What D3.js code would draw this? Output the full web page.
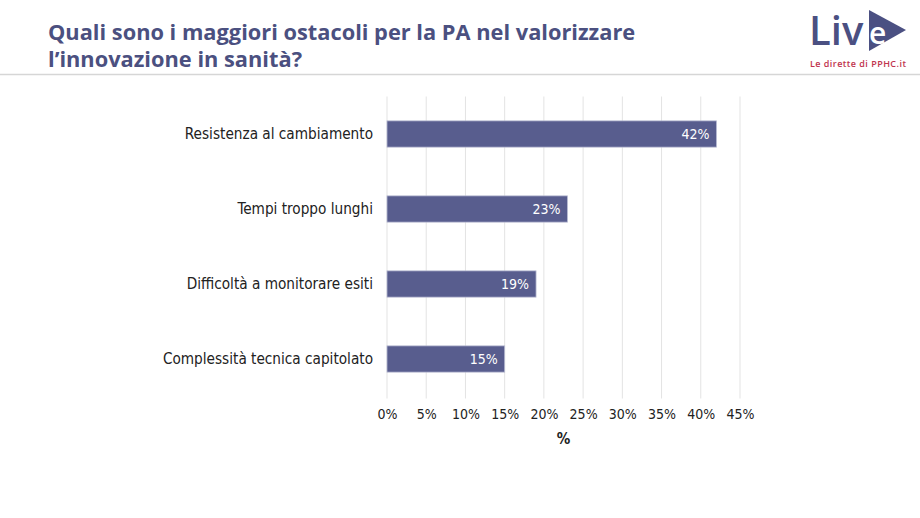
<!DOCTYPE html>
<html>
<head>
<script src="https://cdnjs.cloudflare.com/ajax/libs/d3/7.8.5/d3.min.js"></script>
<style>
  body { margin: 0; background: #fff; }
  svg { display: block; }
</style>
</head>
<body>
<div id="chart"></div>
<script>
const categories = ["Resistenza al cambiamento", "Tempi troppo lunghi", "Difficoltà a monitorare esiti", "Complessità tecnica capitolato"];
const values = [42, 23, 19, 15];
const ticks = [0, 5, 10, 15, 20, 25, 30, 35, 40, 45];
const titleLines = ["Quali sono i maggiori ostacoli per la PA nel valorizzare", "l\u2019innovazione in sanità?"];

const width = 920, height = 518;
const font = "'DejaVu Sans Condensed', 'DejaVu Sans', sans-serif";
const margin = { top: 96.5, left: 387, right: 180, bottom: 121.5 };

const svg = d3.select("#chart").append("svg")
  .attr("width", width).attr("height", height);

// header
svg.selectAll(".title").data(titleLines).join("text")
  .attr("x", 48).attr("y", (d, i) => 40 + i * 27)
  .attr("fill", "#4b5080").attr("font-family", "'Open Sans', sans-serif")
  .attr("font-weight", "bold").attr("font-size", 21.8)
  .text(d => d);

svg.append("line").attr("x1", 0).attr("x2", width).attr("y1", 74.5).attr("y2", 74.5)
  .attr("stroke", "#d6d6d6").attr("stroke-width", 1.5);

// logo
const logo = svg.append("g");
logo.append("path")
  .attr("d", "M869,10 L906,30 L869,51 Z").attr("fill", "#4b5082");
logo.append("text").attr("x", 809).attr("y", 45)
  .attr("font-family", "'Open Sans', sans-serif").attr("font-size", 40)
  .attr("font-weight", 600).attr("fill", "#4b5082").text("Liv");
logo.append("text").attr("x", 869).attr("y", 44)
  .attr("font-family", "'Open Sans', sans-serif").attr("font-size", 30)
  .attr("font-weight", 600).attr("fill", "#fff").text("e");
logo.append("text").attr("x", 810).attr("y", 67)
  .attr("font-family", "'Open Sans', sans-serif").attr("font-size", 9)
  .attr("font-weight", 600).attr("fill", "#c0334d").attr("textLength", 96).text("Le dirette di PPHC.it");

// chart
const x = d3.scaleLinear().domain([0, 45]).range([margin.left, width - margin.right]);
const y = d3.scaleBand().domain(categories).range([margin.top, height - margin.bottom]).paddingInner(0.65).paddingOuter(0.325);

svg.append("g").selectAll("line").data(ticks).join("line")
  .attr("x1", d => x(d)).attr("x2", d => x(d))
  .attr("y1", margin.top).attr("y2", height - margin.bottom + 2)
  .attr("stroke", "#e3e3e3").attr("stroke-width", 1);

const xAxis = svg.append("g")
  .attr("transform", `translate(0,${height - margin.bottom})`)
  .call(d3.axisBottom(x).tickValues(ticks).tickFormat(d => d + "%").tickSize(0).tickPadding(13));
xAxis.select(".domain").remove();
xAxis.selectAll("text").attr("font-family", font).attr("font-size", 14).attr("fill", "#222");

const yAxis = svg.append("g")
  .attr("transform", `translate(${margin.left},0)`)
  .call(d3.axisLeft(y).tickSize(0).tickPadding(14));
yAxis.select(".domain").remove();
yAxis.selectAll("text").attr("font-family", font).attr("font-size", 15.2).attr("fill", "#222");

svg.append("text").attr("x", (x(0) + x(45)) / 2).attr("y", 444)
  .attr("text-anchor", "middle").attr("font-family", font).attr("font-size", 15)
  .attr("font-weight", "bold").attr("fill", "#222").text("%");

svg.append("g").selectAll("rect").data(values).join("rect")
  .attr("x", x(0)).attr("y", (d, i) => y(categories[i]))
  .attr("width", d => x(d) - x(0)).attr("height", y.bandwidth())
  .attr("fill", "#585d8e").attr("stroke", "#b8bbd2").attr("stroke-width", 0.8);

svg.append("g").selectAll("text").data(values).join("text")
  .attr("x", d => x(d) - 7).attr("y", (d, i) => y(categories[i]) + y.bandwidth() / 2)
  .attr("dy", "0.35em").attr("text-anchor", "end")
  .attr("font-family", font).attr("font-size", 14).attr("fill", "#fff")
  .text(d => d + "%");
</script>
</body>
</html>
